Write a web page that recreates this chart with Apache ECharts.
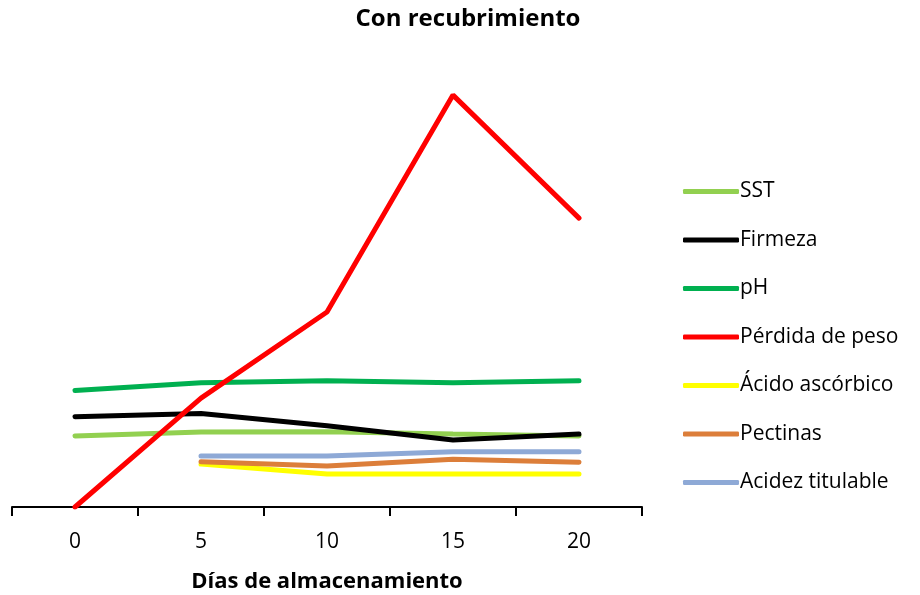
<!DOCTYPE html>
<html>
<head>
<meta charset="utf-8">
<script src="https://cdn.jsdelivr.net/npm/echarts@6/dist/echarts.min.js"></script>
<style>
  html, body { margin: 0; padding: 0; background: #fff; }
  #chart { width: 920px; height: 595px; }
</style>
</head>
<body>
<div id="chart"></div>
<script>
const dias = ['0', '5', '10', '15', '20']
const sst = [2.37, 2.50, 2.51, 2.43, 2.37]
const firmeza = [3.01, 3.12, 2.71, 2.23, 2.43]
const ph = [3.88, 4.14, 4.21, 4.14, 4.21]
const perdidaPeso = [0, 3.63, 6.50, 13.73, 9.63]
const acidoAscorbico = [null, 1.43, 1.10, 1.10, 1.10]
const pectinas = [null, 1.51, 1.37, 1.59, 1.49]
const acidezTitulable = [null, 1.70, 1.70, 1.84, 1.84]

const font = 'Open Sans'

function serie(name, data, color) {
  return {
    name: name,
    type: 'line',
    data: data,
    showSymbol: false,
    symbol: 'none',
    lineStyle: { color: color, width: 5, cap: 'round' },
    itemStyle: { color: color }
  }
}

const chart = echarts.init(document.getElementById('chart'))
chart.setOption({
  animation: false,
  title: {
    text: 'Con recubrimiento',
    left: 463,
    top: 2,
    textAlign: 'center',
    textStyle: { fontFamily: font, fontWeight: 'bold', fontSize: 24, color: '#000' }
  },
  legend: {
    orient: 'vertical',
    left: 678,
    top: 176,
    itemWidth: 56,
    itemHeight: 5,
    itemGap: 27.5,
    icon: 'roundRect',
    textStyle: { fontFamily: font, fontSize: 21, color: '#000', padding: [0, 0, 0, -4] },
    data: ['SST', 'Firmeza', 'pH', 'Pérdida de peso', 'Ácido ascórbico', 'Pectinas', 'Acidez titulable']
  },
  grid: { left: 12, right: 278, top: 87, bottom: 88, outerBoundsMode: 'none' },
  xAxis: {
    type: 'category',
    data: dias,
    boundaryGap: true,
    name: 'Días de almacenamiento',
    nameLocation: 'middle',
    nameGap: 64,
    nameTextStyle: { fontFamily: font, fontWeight: 'bold', fontSize: 22, color: '#000' },
    axisLine: { lineStyle: { color: '#000', width: 2 } },
    axisTick: { show: true, length: 9, lineStyle: { color: '#000', width: 2 } },
    axisLabel: { fontFamily: font, fontSize: 21, color: '#000', margin: 25 }
  },
  yAxis: {
    type: 'value',
    min: 0,
    max: 14,
    show: false
  },
  series: [
    serie('SST', sst, '#92D050'),
    serie('Firmeza', firmeza, '#000000'),
    serie('pH', ph, '#00B050'),
    serie('Pérdida de peso', perdidaPeso, '#FF0000'),
    serie('Ácido ascórbico', acidoAscorbico, '#FFFF00'),
    serie('Pectinas', pectinas, '#DC7E3A'),
    serie('Acidez titulable', acidezTitulable, '#8EA9D6')
  ]
})
</script>
</body>
</html>
